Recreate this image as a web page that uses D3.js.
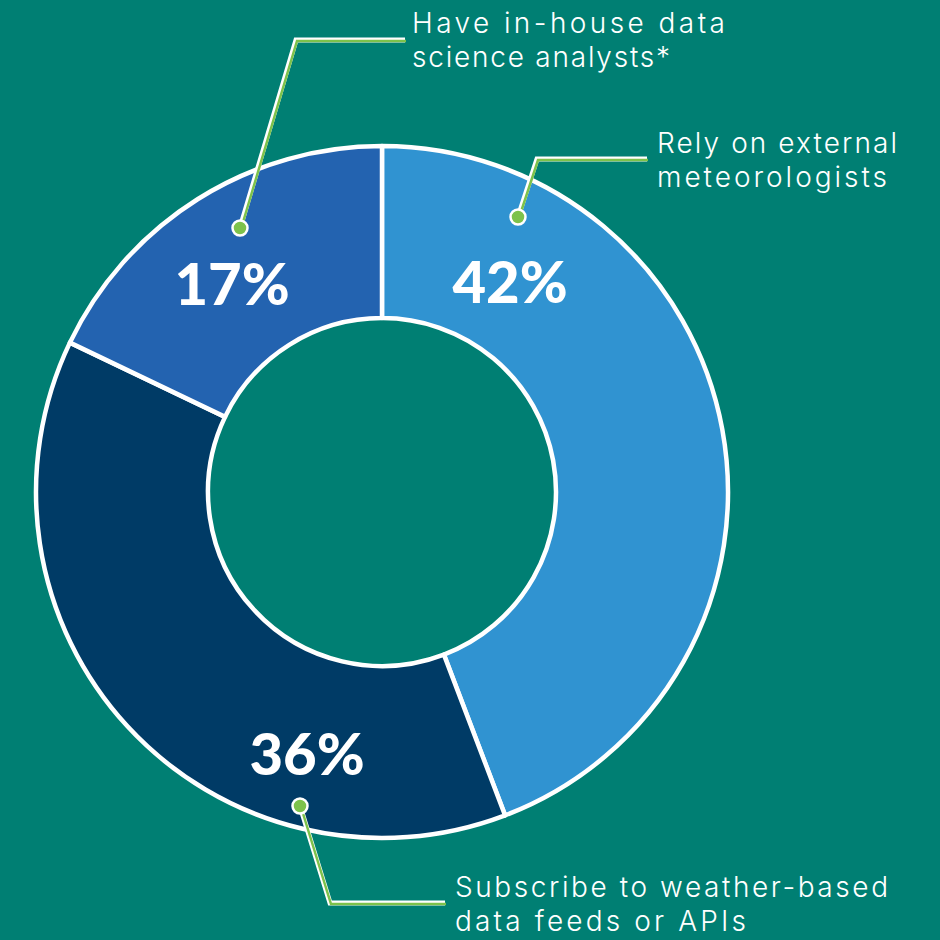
<!DOCTYPE html>
<html><head><meta charset="utf-8">
<script src="https://cdn.jsdelivr.net/npm/d3@7"></script>
<style>html,body{margin:0;padding:0;background:#007F73;}svg{display:block;}</style>
</head><body>
<svg id="c" width="940" height="940"></svg>
<script>
const categories = ["Rely on external meteorologists", "Subscribe to weather-based data feeds or APIs", "Have in-house data science analysts*"];
const values = [42, 36, 17];
const valueLabels = ["42%", "36%", "17%"];
const labelLines = [["Rely on external", "meteorologists"], ["Subscribe to weather-based", "data feeds or APIs"], ["Have in-house data", "science analysts*"]];
const colors = ["#3093D1", "#003B66", "#2363B0"];

// layout (positions, not data)
const cx = 382, cy = 492, rOuter = 346, rInner = 174;
const pctPos = [[510, 283], [307, 755], [232, 285]];
const leaders = [
  {pts: [[518, 217], [537, 159], [647, 159]], text: [657, 153], widths: [240, 230]},
  {pts: [[300, 806], [330, 903], [445, 903]], text: [455, 897], widths: [433, 291]},
  {pts: [[240, 228], [296, 40], [405, 40]], text: [412, 33], widths: [313, 258]}
];

const svg = d3.select("#c");
svg.append("rect").attr("width", 940).attr("height", 940).attr("fill", "#007F73");
const pie = d3.pie().sort(null).value(d => d)(values);
const arc = d3.arc().innerRadius(rInner).outerRadius(rOuter);
const g = svg.append("g").attr("transform", `translate(${cx},${cy})`);
g.selectAll("path").data(pie).join("path")
  .attr("d", arc).attr("fill", (d, i) => colors[i])
  .attr("stroke", "#fff").attr("stroke-width", 4.5).attr("stroke-linejoin", "round");

svg.selectAll("text.pct").data(valueLabels).join("text").attr("class", "pct")
  .attr("x", (d, i) => pctPos[i][0]).attr("y", (d, i) => pctPos[i][1] + 20)
  .attr("text-anchor", "middle").attr("fill", "#fff")
  .attr("font-family", "Lato, sans-serif").attr("font-weight", 900).attr("font-size", 58)
  .text(d => d);

const line = d3.line();
leaders.forEach((L, i) => {
  svg.append("path").attr("d", line(L.pts)).attr("fill", "none").attr("stroke", "#fff").attr("stroke-width", 5);
  svg.append("path").attr("d", line(L.pts.map(p => [p[0] + 1, p[1] + 1]))).attr("fill", "none").attr("stroke", "#7DC24B").attr("stroke-width", 2.5);
  svg.append("circle").attr("cx", L.pts[0][0]).attr("cy", L.pts[0][1]).attr("r", 7.5)
    .attr("fill", "#7DC24B").attr("stroke", "#fff").attr("stroke-width", 2.5);
  labelLines[i].forEach((s, j) => {
    svg.append("text").attr("x", L.text[0]).attr("y", L.text[1] + j * 34).attr("fill", "#fff")
      .attr("font-family", "Inter, 'Open Sans', sans-serif").attr("font-weight", 300).attr("font-size", 28)
      .attr("textLength", L.widths[j]).attr("lengthAdjust", "spacing")
      .text(s);
  });
});
</script>
</body></html>
